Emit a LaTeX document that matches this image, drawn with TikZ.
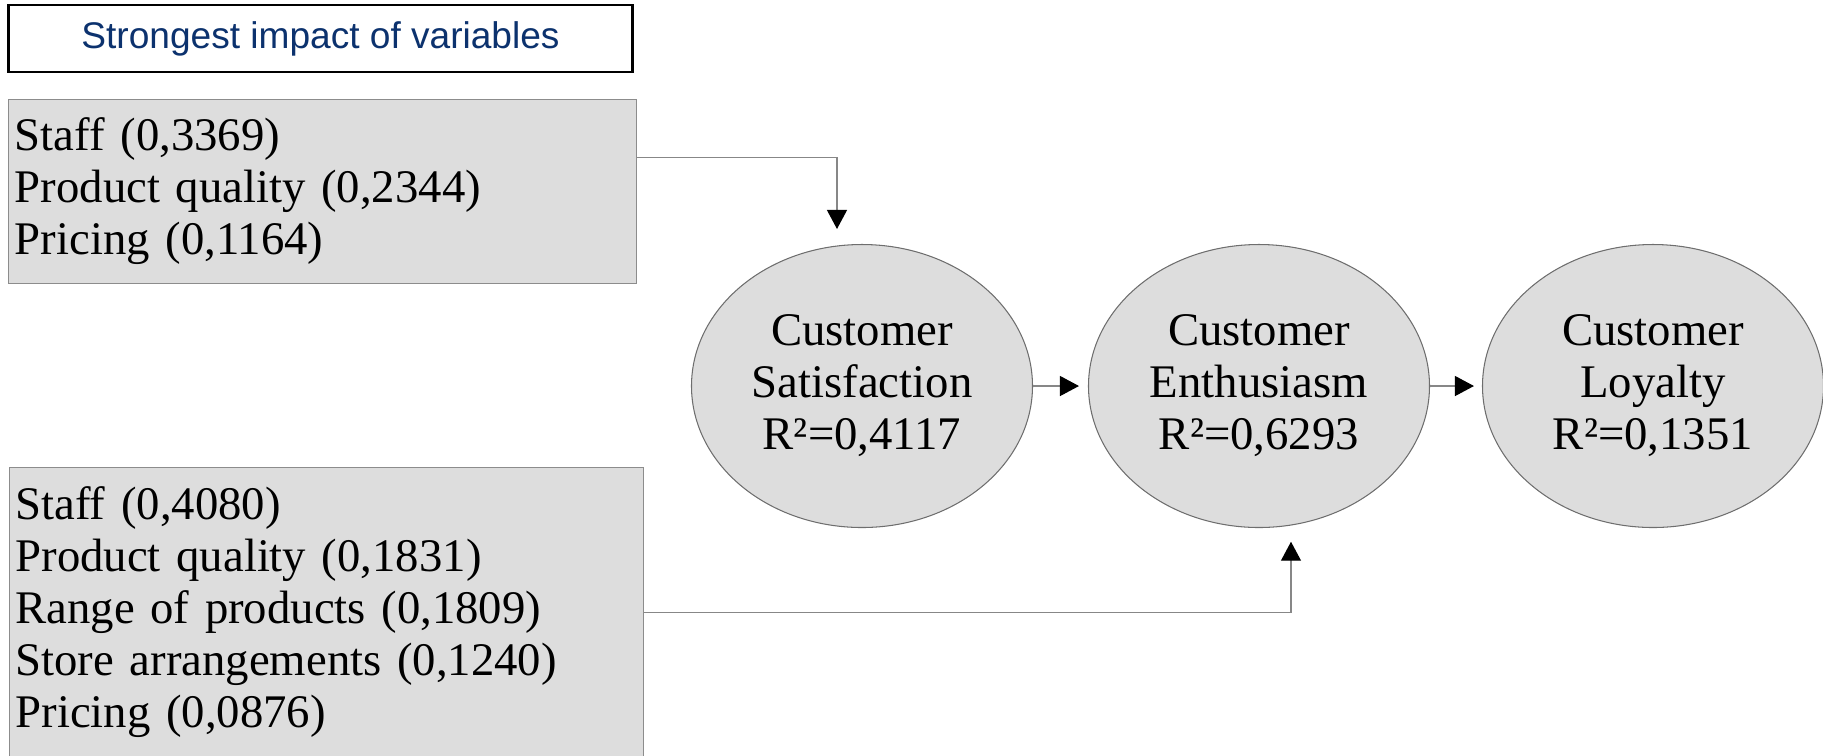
\documentclass[tikz,border=0pt]{standalone}
\usepackage{fontspec}
\setmainfont{Liberation Serif}
\newfontfamily\headfont{Liberation Sans}
\usetikzlibrary{shapes.geometric, arrows.meta}

\definecolor{boxfill}{RGB}{221,221,221}
\definecolor{boxline}{RGB}{140,140,140}
\definecolor{ringline}{RGB}{110,110,110}
\definecolor{linkgray}{RGB}{135,135,135}
\definecolor{headblue}{RGB}{12,50,110}

\newcommand{\factorfont}{\fontsize{13.3}{14.8}\selectfont}

\tikzset{
  headbox/.style={draw=black, line width=0.6pt, fill=white, inner sep=0pt,
    minimum width=6.24cm, minimum height=0.667cm,
    font=\headfont\fontsize{10.55}{12}\selectfont, text=headblue},
  factorbox/.style={draw=boxline, fill=boxfill, line width=0.3pt,
    anchor=north west, inner xsep=0.6mm, inner ysep=0pt, align=left,
    font=\factorfont},
  construct/.style={ellipse, draw=ringline, fill=boxfill, line width=0.3pt,
    inner sep=0pt, minimum width=3.41cm, minimum height=2.83cm,
    align=center, font=\factorfont},
  link/.style={draw=linkgray, line width=0.35pt,
    -{Triangle[length=1.9mm, width=2mm, color=black]}}
}

\begin{document}
\begin{tikzpicture}
  \useasboundingbox (0,0) rectangle (18.23,-7.55);
  \clip (0,0) rectangle (18.23,-7.55);

  % heading
  \node[headbox] (head) at (3.205,-0.384) {Strongest impact of variables};

  % drivers of satisfaction and of enthusiasm
  \node[factorbox, text width=6.16cm, minimum height=1.84cm] (upper) at (0.084,-0.99)
    {Staff (0,3369)\\Product quality (0,2344)\\Pricing (0,1164)};
  \node[factorbox, text width=6.22cm, minimum height=2.9cm] (lower) at (0.09,-4.67)
    {Staff (0,4080)\\Product quality (0,1831)\\Range of products (0,1809)\\
     Store arrangements (0,1240)\\Pricing (0,0876)};

  % constructs
  \node[construct] (sat) at (8.62,-3.86) {Customer\\Satisfaction\\R²=0,4117};
  \node[construct] (ent) at (12.59,-3.86) {Customer\\Enthusiasm\\R²=0,6293};
  \node[construct] (loy) at (16.53,-3.86) {Customer\\Loyalty\\R²=0,1351};

  % chain
  \draw[link, shorten >=0.9mm] (sat) -- (ent);
  \draw[link, shorten >=0.8mm] (ent) -- (loy);

  % factor arrows
  \draw[link] ([yshift=-5.87mm]upper.north east) -| ([xshift=-2.5mm, yshift=1.5mm]sat.north);
  \draw[link] ([yshift=-14.53mm]lower.north east) -| ([xshift=3.2mm, yshift=-1.37mm]ent.south);
\end{tikzpicture}
\end{document}
